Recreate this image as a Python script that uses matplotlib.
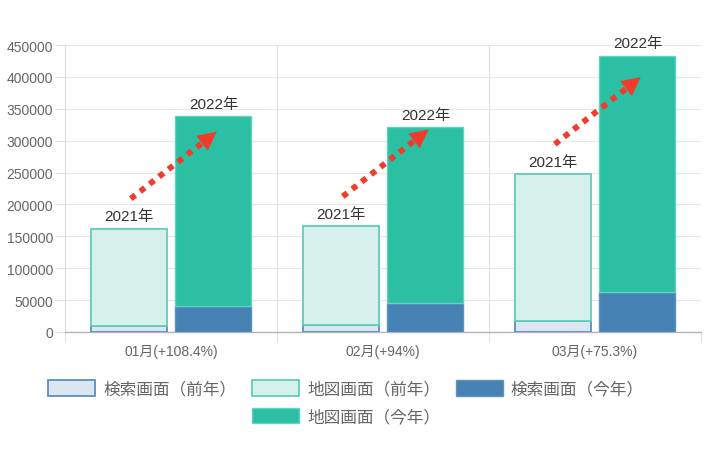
import matplotlib
matplotlib.use("Agg")
import matplotlib.pyplot as plt
from matplotlib.patches import Rectangle
import numpy as np

plt.rcParams['font.family'] = ['Liberation Sans', 'Noto Sans CJK JP']

categories = ["01月(+108.4%)", "02月(+94%)", "03月(+75.3%)"]
search_prev = [10000, 11500, 17000]
map_prev = [152000, 154000, 230500]
search_cur = [41000, 45000, 63000]
map_cur = [297000, 276000, 370500]
year_prev_label = "2021年"
year_cur_label = "2022年"
legend_labels = ["検索画面（前年）", "地図画面（前年）", "検索画面（今年）", "地図画面（今年）"]
yticks = list(range(0, 450001, 50000))

c_sp_fill, c_sp_edge = "#dce6f1", "#5b8ec6"
c_mp_fill, c_mp_edge = "#d6f1eb", "#5fcfb8"
c_sc_fill, c_sc_edge = "#4682b4", "#5b92c0"
c_mc_fill, c_mc_edge = "#2bbfa4", "#63d3be"
red = "#f5392a"

fig = plt.figure(figsize=(7.1, 4.6), dpi=100)
ax = fig.add_axes([65/710, 1-333/460, (701-65)/710, (333-46)/460])

x = np.arange(len(categories))
w = 0.358
off = 0.2
sp = np.array(search_prev); mp = np.array(map_prev)
sc = np.array(search_cur); mc = np.array(map_cur)

ax.bar(x-off, sp, w, color=c_sp_fill, edgecolor=c_sp_edge, linewidth=1.3, zorder=3)
ax.bar(x-off, mp, w, bottom=sp, color=c_mp_fill, edgecolor=c_mp_edge, linewidth=1.3, zorder=3)
ax.bar(x+off, sc, w, color=c_sc_fill, edgecolor=c_sc_edge, linewidth=1.0, zorder=3)
ax.bar(x+off, mc, w, bottom=sc, color=c_mc_fill, edgecolor=c_mc_edge, linewidth=1.0, zorder=3)

ax.set_xlim(-0.5, len(categories)-0.5)
ax.set_ylim(0, 450000)
ax.set_yticks(yticks)
ax.set_yticklabels([str(v) for v in yticks])
ax.set_xticks(x)
ax.set_xticklabels(categories)
ax.set_xticks(np.arange(-0.5, len(categories)), minor=True)
ax.tick_params(axis='x', which='major', length=0, pad=8.5, labelsize=10, labelcolor="#666666")
ax.tick_params(axis='x', which='minor', length=7.5, width=0.8, color="#e2e2e2")
ax.tick_params(axis='y', which='major', length=7.5, width=0.8, color="#e2e2e2", pad=1,
               labelsize=10, labelcolor="#666666")
ax.grid(axis='y', which='major', color="#e6e6e6", linewidth=0.8, zorder=0)
ax.grid(axis='x', which='minor', color="#e2e2e2", linewidth=0.8, zorder=0)
ax.set_axisbelow(True)
for s in ['top', 'right']:
    ax.spines[s].set_visible(False)
ax.spines['left'].set_color("#dcdcdc")
ax.spines['left'].set_linewidth(0.8)
ax.spines['bottom'].set_color("#b5b5b5")
ax.spines['bottom'].set_linewidth(1.0)

prev_tot = sp + mp
cur_tot = sc + mc
for i in range(len(categories)):
    ax.annotate(year_prev_label, (x[i]-off, prev_tot[i]), xytext=(0, 4), textcoords='offset points',
                ha='center', va='bottom', fontsize=11, color="#333333", zorder=5)
    ax.annotate(year_cur_label, (x[i]+off, cur_tot[i]), xytext=(0, 4), textcoords='offset points',
                ha='center', va='bottom', fontsize=11, color="#333333", zorder=5)

fig.canvas.draw()
# dotted red arrows from 2021 bars to 2022 bars
vec = np.array([86.0, 67.0])  # pixels
for i in range(len(categories)):
    start = ax.transData.transform((x[i]-0.19, prev_tot[i] + 47000))
    tip = start + vec
    u = vec / np.linalg.norm(vec)
    head_len = 18.0
    line_end = tip - u*head_len
    inv = ax.transData.inverted()
    s_d = inv.transform(start); le_d = inv.transform(line_end); t_d = inv.transform(tip)
    ax.annotate('', xy=le_d, xytext=s_d,
                arrowprops=dict(arrowstyle='-', color=red, lw=4.2, linestyle=(0, (1.0, 1.05)),
                                shrinkA=0, shrinkB=0, capstyle='butt'), zorder=6)
    hb = inv.transform(tip - u*(head_len+1))
    ax.annotate('', xy=t_d, xytext=hb,
                arrowprops=dict(arrowstyle='-|>,head_length=1.1,head_width=0.55', color=red, lw=0.1,
                                shrinkA=0, shrinkB=0, mutation_scale=12), zorder=6)

handles = [
    Rectangle((0, 0), 1, 1, facecolor=c_sp_fill, edgecolor=c_sp_edge, linewidth=1.3),
    Rectangle((0, 0), 1, 1, visible=False),
    Rectangle((0, 0), 1, 1, facecolor=c_mp_fill, edgecolor=c_mp_edge, linewidth=1.3),
    Rectangle((0, 0), 1, 1, facecolor=c_mc_fill, edgecolor=c_mc_edge, linewidth=1.0),
    Rectangle((0, 0), 1, 1, facecolor=c_sc_fill, edgecolor=c_sc_edge, linewidth=1.0),
]
labels = [legend_labels[0], "", legend_labels[1], legend_labels[3], legend_labels[2]]
leg = fig.legend(handles, labels, ncol=3, loc='upper center', bbox_to_anchor=(346/710, 1-366/460),
                 frameon=False, handlelength=2.8, handleheight=1.08,
                 handletextpad=0.5, columnspacing=0.95, labelspacing=0.6,
                 prop={'family': ['Noto Sans CJK JP', 'DejaVu Sans'], 'size': 12})
for t in leg.get_texts():
    t.set_color("#666666")

fig.savefig("out.png", dpi=100)
